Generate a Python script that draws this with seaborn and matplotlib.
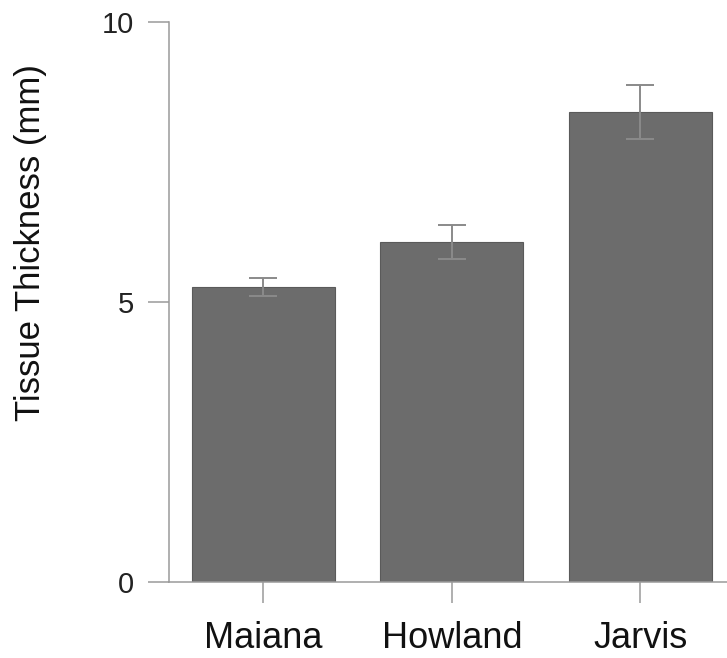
import matplotlib
matplotlib.use("Agg")
import matplotlib.pyplot as plt
import seaborn as sns
import pandas as pd

# Mean tissue thickness per island with standard error
islands = ["Maiana", "Howland", "Jarvis"]
thickness_mm = [5.27, 6.07, 8.39]
thickness_err = [0.16, 0.30, 0.48]
y_ticks = [0, 5, 10]

df = pd.DataFrame({"island": islands, "thickness": thickness_mm})

sns.set_theme(style="white")
plt.rcParams["font.family"] = ["Liberation Sans", "DejaVu Sans"]

fig = plt.figure(figsize=(7.27, 6.58), dpi=100)
ax = fig.add_axes([169 / 727, 76 / 658, 1 - 169 / 727, 560 / 658])

sns.barplot(data=df, x="island", y="thickness", order=islands,
            color="#6c6c6c", saturation=1, width=0.76, errorbar=None,
            edgecolor="#5a5a5a", linewidth=0.8, ax=ax)

ax.errorbar(range(len(islands)), thickness_mm, yerr=thickness_err,
            fmt="none", ecolor="#8a8a8a", elinewidth=1.4, capsize=10,
            capthick=1.4, zorder=3)

ax.set_xlim(-0.5, 2.46)
ax.set_ylim(0, 10)
ax.set_yticks(y_ticks)
ax.set_yticklabels([str(t) for t in y_ticks])

ax.set_xlabel("")
ax.set_ylabel("Tissue Thickness (mm)", fontsize=25, color="#111111")
ax.yaxis.set_label_coords(-0.218, 0.607)

for side in ("top", "right"):
    ax.spines[side].set_visible(False)
for side in ("left", "bottom"):
    ax.spines[side].set_color("#9a9a9a")
    ax.spines[side].set_linewidth(1.1)

ax.tick_params(axis="y", which="major", direction="out", length=15, width=1.1,
               color="#9a9a9a", labelsize=21, pad=10, labelcolor="#222222", left=True)
ax.tick_params(axis="x", which="major", direction="out", length=15, width=1.1,
               color="#9a9a9a", labelsize=26, pad=13, labelcolor="#111111", bottom=True)

fig.savefig("out.png", dpi=100)
